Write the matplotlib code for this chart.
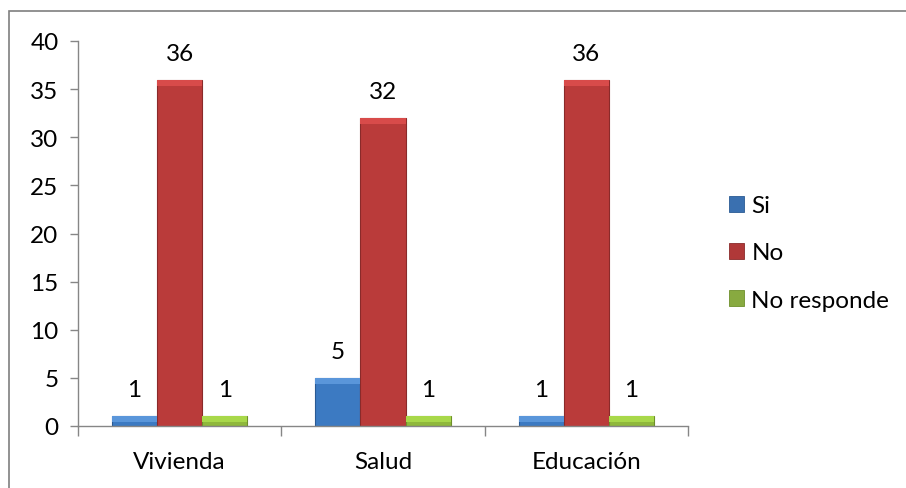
import matplotlib
matplotlib.use("Agg")
import matplotlib.pyplot as plt
import numpy as np
from matplotlib.patches import Rectangle, Patch

plt.rcParams['font.family'] = ['Lato', 'DejaVu Sans']

categories = ["Vivienda", "Salud", "Educación"]
series_names = ["Si", "No", "No responde"]
si = [1, 5, 1]
no = [36, 32, 36]
no_responde = [1, 1, 1]
yticks = [0, 5, 10, 15, 20, 25, 30, 35, 40]

colors = ["#3C7AC2", "#BA3B3A", "#8FB83C"]
tops = ["#5A96DA", "#D84B4A", "#A8D84A"]
edges = ["#2A5A93", "#8A2A2A", "#6E8F2A"]
legend_colors = ["#3A70B0", "#B03838", "#88AA40"]
FS = 17.5

fig = plt.figure(figsize=(9.06, 4.89), dpi=100)
ax = fig.add_axes([78/906, 1-427/489, (688-78)/906, (427-42)/489])
ax.set_xlim(-0.5, len(categories)-0.5)
ax.set_ylim(0, 40)

# data units per pixel (vertical) for bevel strip
px = 40 / ax.get_window_extent().height

x = np.arange(len(categories))
w = 0.222
series = [si, no, no_responde]
for i, vals in enumerate(series):
    bars = ax.bar(x + (i-1)*w, vals, width=w, color=colors[i], edgecolor=edges[i], linewidth=0.8, zorder=3)
    for b, v in zip(bars, vals):
        strip = min(6*px, v)
        ax.add_patch(Rectangle((b.get_x(), v-strip), b.get_width(), strip, facecolor=tops[i],
                               edgecolor='none', zorder=4))
        ax.annotate(str(v), (b.get_x()+b.get_width()/2, v), xytext=(0, 19), textcoords='offset points',
                    ha='center', va='center', fontsize=FS, color='black')

ax.set_yticks(yticks)
ax.set_xticks(x)
ax.set_xticklabels(categories, fontsize=FS)
ax.set_xticks(np.arange(len(categories)+1)-0.5, minor=True)
ax.tick_params(axis='x', which='major', length=0, pad=18)
ax.tick_params(axis='x', which='minor', length=7, color='#868686', width=1)
ax.tick_params(axis='y', length=6, color='#868686', width=1, pad=8, labelsize=FS)
for s in ['top', 'right']:
    ax.spines[s].set_visible(False)
for s in ['left', 'bottom']:
    ax.spines[s].set_color('#868686')
    ax.spines[s].set_linewidth(1)
    ax.spines[s].set_zorder(5)

handles = [Patch(facecolor=legend_colors[i], edgecolor=edges[i], linewidth=0.6) for i in range(3)]
leg = fig.legend(handles, series_names, loc='center left', bbox_to_anchor=(729/906, 1-254/489),
                 frameon=False, fontsize=FS, handlelength=0.62, handleheight=0.62,
                 handletextpad=0.3, labelspacing=1.08, borderpad=0, borderaxespad=0)

fig.patches.append(Rectangle((9/906, -0.1), 1.2, 1-12/489+0.1, transform=fig.transFigure,
                             fill=False, edgecolor='#7F7F7F', linewidth=1.2, zorder=0))

fig.savefig("out.png", dpi=100, facecolor='white')
